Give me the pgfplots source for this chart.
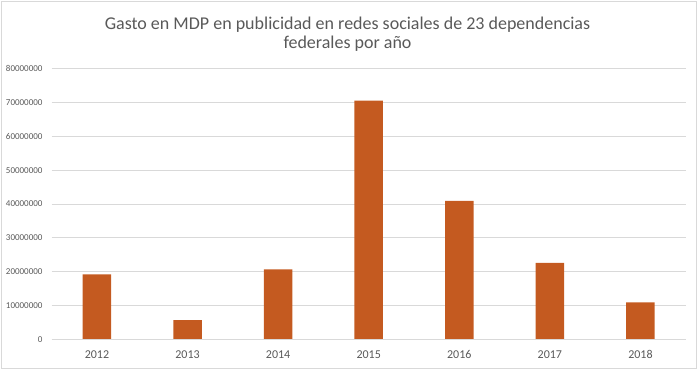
\documentclass[border=0pt]{standalone}
\usepackage{pgfplots}
\pgfplotsset{compat=1.18}
\usepackage{fontspec}
\setmainfont{Carlito}
\definecolor{barc}{HTML}{C45A20}
\definecolor{gridc}{HTML}{D9D9D9}
\definecolor{txt}{HTML}{595959}
\begin{document}
\begin{tikzpicture}
\path[use as bounding box] (0pt,0pt) rectangle (700pt,370pt);
\draw[gridc,line width=0.8pt] (1pt,1.5pt) rectangle (696.5pt,369pt);
\node[anchor=base,text=txt,font=\fontsize{18}{22}\selectfont,inner sep=0pt] at (347.5pt,340.7pt) {Gasto en MDP en publicidad en redes sociales de 23 dependencias};
\node[anchor=base,text=txt,font=\fontsize{18}{22}\selectfont,inner sep=0pt] at (347.5pt,321.5pt) {federales por año};
\begin{axis}[
  at={(51.7pt,30.7pt)}, anchor=south west,
  scale only axis, width=634pt, height=270.6pt,
  xmin=-0.5, xmax=6.5, ymin=0, ymax=80000000,
  ybar, bar width=28.5pt,
  scaled y ticks=false,
  xtick={0,1,2,3,4,5,6},
  xticklabels={2012,2013,2014,2015,2016,2017,2018},
  ytick={0,10000000,20000000,30000000,40000000,50000000,60000000,70000000,80000000},
  yticklabels={0,10000000,20000000,30000000,40000000,50000000,60000000,70000000,80000000},
  axis line style={draw=none},
  major tick length=0pt,
  ymajorgrids, grid style={gridc, line width=0.8pt},
  xticklabel style={anchor=base, yshift=-19pt, text=txt, font=\fontsize{12}{14}\selectfont},
  yticklabel style={text=txt, font=\fontsize{9}{11}\selectfont, xshift=-5.7pt},
  /pgf/number format/assume math mode=true,
  clip=false,
]
\addplot[fill=barc, draw=none] coordinates {(0,19200000) (1,5700000) (2,20700000) (3,70600000) (4,40900000) (5,22600000) (6,10900000)};
\draw[gridc, line width=0.8pt] (axis cs:-0.5,0) -- (axis cs:6.5,0);
\end{axis}
\end{tikzpicture}
\end{document}
